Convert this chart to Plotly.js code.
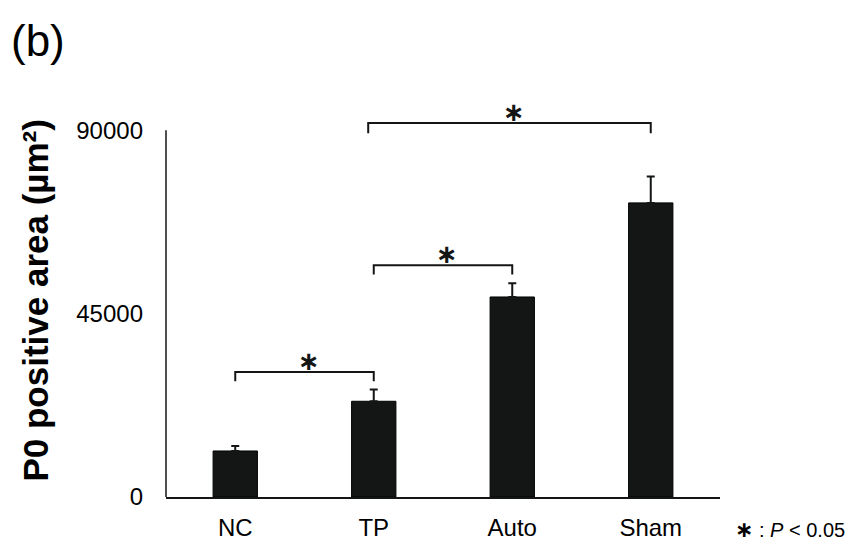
<!DOCTYPE html>
<html>
<head>
<meta charset="utf-8">
<script src="https://cdn.plot.ly/plotly-3.0.1.min.js"></script>
<style>html,body{margin:0;padding:0;background:#fff;}#chart{width:851px;height:544px;}</style>
</head>
<body>
<div id="chart"></div>
<script>
// ---- data ----
const categories = ["NC", "TP", "Auto", "Sham"];
const areaMean = [11300, 23500, 49100, 72200];
const areaErr = [1200, 2900, 3400, 6500];
const yTickVals = [0, 45000, 90000];
const yTickText = ["0", "45000", "90000"];
// significance brackets: from category index, to category index, bracket top, leg bottom
const bracketFrom = [0, 1, 0.96];
const bracketTo = [1, 2, 3];
const bracketTop = [30700, 56900, 91800];
const bracketLeg = [28400, 54600, 89300];
const bracketLabel = ["∗", "∗", "∗"];
const noteText = "<span style='font-family:DejaVu Sans;font-size:22px;font-weight:bold'>∗</span> : <i>P</i> < 0.05";
const panelLabel = "(b)";
const yTitle = "P0 positive area (µm²)";

const xIdx = categories.map((c, i) => i);
const ink = "#141616";
const FONT = "Liberation Sans, Arial, sans-serif";

const traces = [{
  type: "bar",
  x: xIdx,
  y: areaMean,
  width: 0.32,
  marker: {color: ink, line: {color: "#000", width: 1}},
  error_y: {type: "data", symmetric: false, array: areaErr,
            arrayminus: areaErr.map(() => 0), color: ink, thickness: 2, width: 4},
  hoverinfo: "skip",
  showlegend: false
}];

const annotations = [];
for (let i = 0; i < bracketFrom.length; i++) {
  traces.push({
    type: "scatter", mode: "lines",
    x: [bracketFrom[i], bracketFrom[i], bracketTo[i], bracketTo[i]],
    y: [bracketLeg[i], bracketTop[i], bracketTop[i], bracketLeg[i]],
    line: {color: ink, width: 2},
    hoverinfo: "skip", showlegend: false
  });
  annotations.push({
    xref: "x", yref: "y",
    x: (bracketFrom[i] + bracketTo[i]) / 2 + 0.03, y: bracketTop[i],
    text: "<b>" + bracketLabel[i] + "</b>", showarrow: false,
    xanchor: "center", yanchor: "bottom", yshift: -6,
    font: {family: "DejaVu Sans", size: 26, color: ink}
  });
}
annotations.push({
  xref: "paper", yref: "paper", x: -0.2347, y: 0.51,
  text: "<b>" + yTitle + "</b>", textangle: -90, showarrow: false,
  xanchor: "center", yanchor: "middle",
  font: {family: FONT, size: 35, color: "#000"}
});
annotations.push({
  xref: "paper", yref: "paper", x: 1.126, y: -0.085,
  text: noteText, showarrow: false, xanchor: "center", yanchor: "middle",
  font: {family: FONT, size: 20, color: "#000"}
});
annotations.push({
  xref: "paper", yref: "paper", x: -0.284, y: 1.18,
  text: panelLabel, showarrow: false, xanchor: "left", yanchor: "middle",
  font: {family: FONT, size: 44, color: "#000"}
});

const layout = {
  width: 851, height: 544,
  margin: {l: 166, r: 131, t: 110, b: 47, pad: 0},
  paper_bgcolor: "#fff", plot_bgcolor: "#fff",
  font: {family: FONT, color: "#000"},
  showlegend: false,
  xaxis: {
    range: [-0.5, 3.5], tickvals: xIdx, ticktext: categories,
    showgrid: false, zeroline: false, showline: true, linecolor: ink, linewidth: 2,
    ticks: "", tickfont: {family: FONT, size: 24, color: "#000"},
    ticklabelstandoff: 8, fixedrange: true
  },
  yaxis: {
    range: [0, 95000], tickvals: yTickVals, ticktext: yTickText,
    showgrid: false, zeroline: false, showline: false,
    ticks: "", tickfont: {family: FONT, size: 24, color: "#000"},
    ticklabelstandoff: 22, fixedrange: true
  },
  shapes: [{
    type: "line", xref: "paper", yref: "y",
    x0: 0, x1: 0, y0: yTickVals[0], y1: yTickVals[yTickVals.length - 1],
    line: {color: ink, width: 1.5}
  }],
  annotations: annotations
};

Plotly.newPlot("chart", traces, layout, {displayModeBar: false, staticPlot: true});
</script>
</body>
</html>
